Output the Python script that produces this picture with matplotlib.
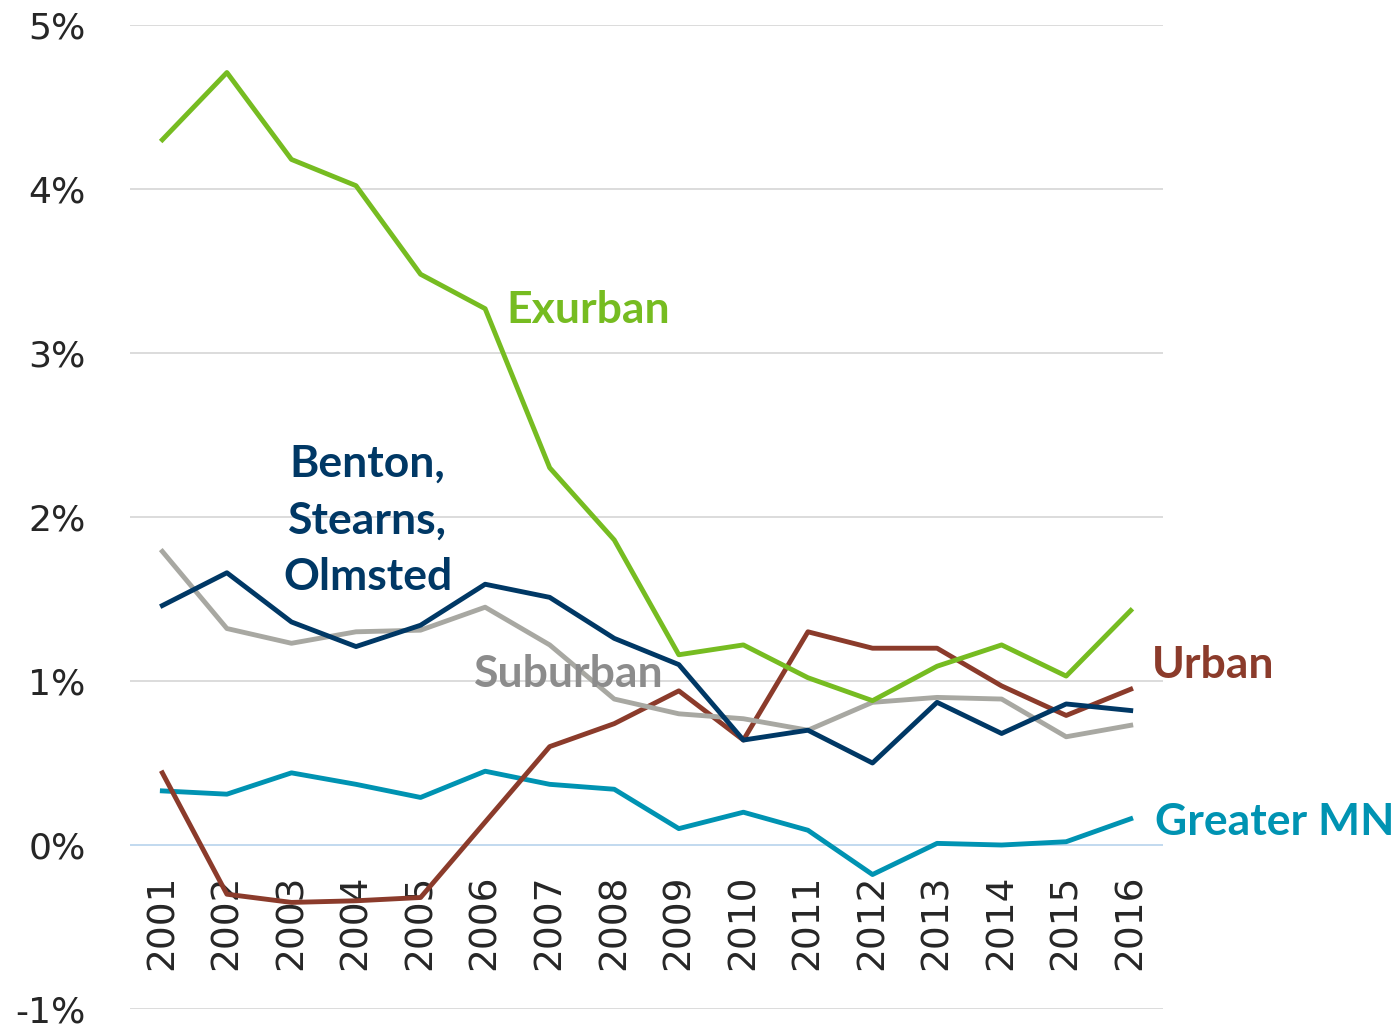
import matplotlib
matplotlib.use("Agg")
import matplotlib.pyplot as plt

years = list(range(2001, 2017))
exurban = [4.30, 4.71, 4.18, 4.02, 3.48, 3.27, 2.30, 1.86, 1.16, 1.22, 1.02, 0.88, 1.09, 1.22, 1.03, 1.43]
benton = [1.46, 1.66, 1.36, 1.21, 1.34, 1.59, 1.51, 1.26, 1.10, 0.64, 0.70, 0.50, 0.87, 0.68, 0.86, 0.82]
suburban = [1.79, 1.32, 1.23, 1.30, 1.31, 1.45, 1.22, 0.89, 0.80, 0.77, 0.70, 0.87, 0.90, 0.89, 0.66, 0.73]
urban = [0.44, -0.30, -0.35, -0.34, -0.32, 0.14, 0.60, 0.74, 0.94, 0.64, 1.30, 1.20, 1.20, 0.97, 0.79, 0.95]
greater_mn = [0.33, 0.31, 0.44, 0.37, 0.29, 0.45, 0.37, 0.34, 0.10, 0.20, 0.09, -0.18, 0.01, 0.00, 0.02, 0.16]
yticks = [-1, 0, 1, 2, 3, 4, 5]
ytick_labels = ["-1%", "0%", "1%", "2%", "3%", "4%", "5%"]

c_green = "#76BC21"
c_navy = "#003865"
c_gray = "#A8A8A2"
c_brown = "#8B3B2B"
c_teal = "#0093B2"

plt.rcParams["font.family"] = ["DejaVu Sans"]

fig = plt.figure(figsize=(13.94, 10.27), dpi=100)
ax = fig.add_axes([0.0933, 0.0175, 0.7410, 0.9582])
ax.set_xlim(2000.5, 2016.5)
ax.set_ylim(-1, 5)

for yv in yticks:
    if yv == 0:
        ax.axhline(yv, color="#BDD7EE", lw=1.3, zorder=1)
    else:
        ax.axhline(yv, color="#D9D9D9", lw=1.3, zorder=1)

for s in ax.spines.values():
    s.set_visible(False)
ax.set_xticks([])
ax.set_yticks(yticks)
ax.set_yticklabels(ytick_labels, fontsize=26, color="#262626", family="DejaVu Sans")
ax.tick_params(axis="y", length=0, pad=32)

for yr in years:
    ax.text(yr, -0.18, str(yr), rotation=90, ha="center", va="top",
            fontsize=27, color="#262626", zorder=2, family="DejaVu Sans")

lw = 3.5
ax.plot(years, greater_mn, color=c_teal, lw=lw, zorder=3)
ax.plot(years, urban, color=c_brown, lw=lw, zorder=3)
ax.plot(years, suburban, color=c_gray, lw=lw, zorder=3)
ax.plot(years, benton, color=c_navy, lw=lw, zorder=3)
ax.plot(years, exurban, color=c_green, lw=lw, zorder=3)

lab_font = dict(family="Lato", fontweight="bold", fontsize=32)
ax.text(2007.6, 3.26, "Exurban", color=c_green, ha="center", va="center", zorder=4, **lab_font)
ax.text(2004.18, 1.98, "Benton,\nStearns,\nOlmsted", color=c_navy, ha="center", va="center",
        linespacing=1.5, zorder=4, **lab_font)
ax.text(2007.3, 1.04, "Suburban", color="#8C8C8C", ha="center", va="center", zorder=4, **lab_font)
ax.text(2016.32, 1.10, "Urban", color=c_brown, ha="left", va="center", zorder=4, clip_on=False, **lab_font)
ax.text(2016.38, 0.14, "Greater MN", color=c_teal, ha="left", va="center", zorder=4, clip_on=False, **lab_font)

fig.savefig("out.png", dpi=100)
